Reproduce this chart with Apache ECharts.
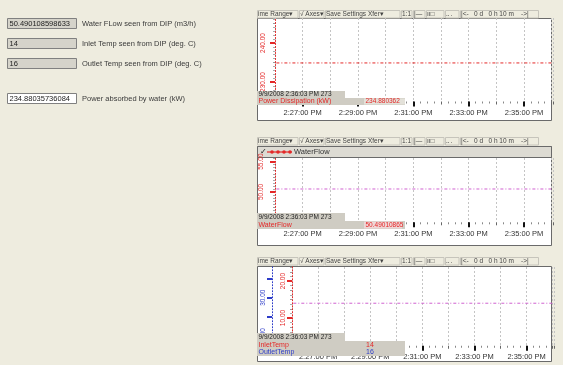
<!DOCTYPE html>
<html><head><meta charset="utf-8">
<script src="https://cdn.jsdelivr.net/npm/echarts@6/dist/echarts.min.js"></script>
<style>html,body{margin:0;padding:0;background:#eeecdf;}#c{width:563px;height:365px;}</style>
</head><body><div id="c"></div>
<script>
// ---------- data ----------
const sampleTimes = [26.05, 36.05];               // minutes after 2:00 PM
const powerValues = [234.880362, 234.880362];
const flowValues = [50.49010865, 50.49010865];
const inletValues = [14, 14];
const outletValues = [16, 16];

const timeTickMinutes = [27, 29, 31, 33, 35];
const timeTickLabels = ['2:27:00 PM', '2:29:00 PM', '2:31:00 PM', '2:33:00 PM', '2:35:00 PM'];

const powerTicks = [230, 240];
const powerTickLabels = ['230.00', '240.00'];
const flowTicks = [50, 55];
const flowTickLabels = ['50.00', '55.00'];
const inletTicks = [10, 20];
const inletTickLabels = ['10.00', '20.00'];
const outletTicks = [20, 30];
const outletTickLabels = ['20.00', '30.00'];

const readoutValues = ['50.490108598633', '14', '16', '234.88035736084'];
const readoutLabels = ['Water FLow seen from DIP (m3/h)', 'Inlet Temp seen from DIP (deg. C)',
  'Outlet Temp seen from DIP (deg. C)', 'Power absorbed by water (kW)'];

const cursorTime = '9/9/2008 2:36:03 PM 273';
const powerName = 'Power Dissipation (kW)';
const powerCursor = '234.880362';
const flowName = 'WaterFlow';
const flowCursor = '50.49010865';
const inletName = 'InletTemp';
const outletName = 'OutletTemp';
const inletCursor = '14';
const outletCursor = '16';

const toolbarItems = ['ime Range\u25BE', '\u221A Axes\u25BE', 'Save Settings Xfer\u25BE', '1:1', '|\u2014', '\u0131\u0131\u25A1', '\u2025 .', '|<-   0 d   0 h 10 m    ->|'];

// ---------- styling ----------
const FONT = '"Liberation Sans", Arial, sans-serif';
const RED = '#e42828';
const BLUE = '#2d3cc8';
const PINK = '#d062d0';

function pickLabel(ticks, labels) {
  return function (v) {
    for (let i = 0; i < ticks.length; i++) if (Math.abs(v - ticks[i]) < 1e-6) return labels[i];
    return '';
  };
}

function xAxes(gi, margin) {
  return [{
    type: 'value', gridIndex: gi, min: 26, max: 36.05, interval: 1, position: 'bottom',
    axisLine: { show: false },
    axisTick: { show: true, length: 3, lineStyle: { color: '#666', width: 1 } },
    minorTick: { show: true, splitNumber: 4, length: 2, lineStyle: { color: '#888' } },
    splitLine: { show: true, lineStyle: { color: '#c4c4c4', type: [2, 2], width: 1 } },
    axisLabel: { formatter: pickLabel(timeTickMinutes, timeTickLabels), fontSize: 7.5, fontFamily: FONT, color: '#333', margin: margin, showMinLabel: true, showMaxLabel: true }
  }, {
    type: 'value', gridIndex: gi, min: 26, max: 36.05, position: 'bottom',
    axisLine: { show: false },
    axisTick: { show: true, length: 5, customValues: timeTickMinutes, lineStyle: { color: '#111', width: 2 } },
    axisLabel: { show: false }, splitLine: { show: false }
  }];
}

function yAxes(gi, min, max, interval, ticks, labels, color, offset, margin, minorSplit, tickMarks) {
  return [{
    type: 'value', gridIndex: gi, min: min, max: max, interval: interval, position: 'left', offset: offset,
    axisLine: { show: true, lineStyle: { color: color, type: [1, 2], width: 1 } },
    axisTick: { show: minorSplit > 0, length: 2, lineStyle: { color: '#999' } },
    minorTick: { show: minorSplit > 0, splitNumber: minorSplit || 2, length: 2, lineStyle: { color: '#aaa' } },
    splitLine: { show: false },
    axisLabel: { rotate: 90, formatter: pickLabel(ticks, labels), color: color, fontSize: 6.5, fontFamily: FONT, margin: margin, showMinLabel: true, showMaxLabel: true }
  }, {
    type: 'value', gridIndex: gi, min: min, max: max, position: 'left', offset: offset,
    axisLine: { show: false },
    axisTick: { show: true, length: 5, customValues: tickMarks || ticks, lineStyle: { color: color, width: 2 } },
    axisLabel: { show: false }, splitLine: { show: false }
  }];
}

// ---------- graphic decorations ----------
const g = [];
function rect(x, y, w, h, fill, stroke, z) {
  g.push({ type: 'rect', shape: { x: x, y: y, width: w, height: h }, style: { fill: fill || 'none', stroke: stroke || null, lineWidth: 1 }, z: z, silent: true });
}
function text(x, y, str, color, size, z) {
  g.push({ type: 'text', x: x, y: y, z: z, silent: true,
    style: { text: str, fill: color, font: size + 'px ' + FONT, textAlign: 'left', textVerticalAlign: 'middle', align: 'left', verticalAlign: 'middle' } });
}

// left panel readouts
const readoutTops = [18.5, 38.5, 58.5, 93.5];
readoutValues.forEach(function (v, i) {
  rect(7.5, readoutTops[i], 69, 10, i < 3 ? '#d5d3ca' : '#ffffff', '#808080', 1);
  text(9.5, readoutTops[i] + 5.5, v, '#222', 7.5, 2);
  text(82, readoutTops[i] + 5.5, readoutLabels[i], '#3a3a3a', 7.5, 2);
});

// chart frames
[[18, 102], [146, 99], [266, 95]].forEach(function (f) {
  rect(257.5, f[0] + 0.5, 294, f[1], '#ffffff', '#6a6a6a', -10);
});

// toolbars
const toolbarX = [258, 300, 326, 402, 414, 427, 446, 461];
[14, 141, 261].forEach(function (ty) {
  toolbarItems.forEach(function (t, i) {
    const x0 = toolbarX[i];
    const x1 = i < toolbarX.length - 1 ? toolbarX[i + 1] - 1.5 : 539;
    rect(x0 - 0.5, ty - 3.5, x1 - x0, 7.5, null, '#c6c4bb', 1);
    text(x0, ty, t, '#444', 6.5, 2);
  });
});

// chart 2 plot legend bar
rect(257.5, 146.5, 294, 11, '#dddbd3', '#6a6a6a', -4);
text(259.5, 152, '\u2713', '#111', 8, 2);
g.push({ type: 'line', shape: { x1: 267, y1: 152, x2: 292, y2: 152 }, style: { stroke: RED, lineWidth: 1.2 }, z: 2, silent: true });
[272, 278, 284, 290].forEach(function (cx) {
  g.push({ type: 'circle', shape: { cx: cx, cy: 152, r: 1.8 }, style: { fill: RED }, z: 2, silent: true });
});
text(294, 152, flowName, '#333', 7.5, 2);

// cursor legends
const LG = '#cfccc3';
rect(257, 91, 88, 7, LG, null, 50);
text(258.5, 94.5, cursorTime, '#222', 6.5, 51);
rect(257, 98, 148, 7, LG, null, 50);
text(258.5, 101.5, powerName, RED, 7, 51);
rect(364, 98.5, 41, 6, '#e3e1d9', null, 51);
text(365.5, 101.5, powerCursor, RED, 6.5, 52);

rect(257, 213, 88, 8, LG, null, 50);
text(258.5, 217, cursorTime, '#222', 6.5, 51);
rect(257, 221, 148, 8, LG, null, 50);
text(258.5, 225, flowName, RED, 7, 51);
rect(364, 221.5, 38, 7, '#efd6d6', null, 51);
text(365.5, 225, flowCursor, RED, 6.5, 52);

rect(257, 333, 88, 8, LG, null, 50);
text(258.5, 337, cursorTime, '#222', 6.5, 51);
rect(257, 341, 148, 15, LG, null, 50);
text(258.5, 345.5, inletName, RED, 7, 51);
text(258.5, 352, outletName, BLUE, 7, 51);
text(366, 345.5, inletCursor, RED, 7, 51);
text(366, 352, outletCursor, BLUE, 7, 51);

// ---------- chart ----------
const chart = echarts.init(document.getElementById('c'), null, { renderer: 'canvas' });
const zip = (a, b) => a.map((v, i) => [v, b[i]]);

chart.setOption({
  backgroundColor: '#eeecdf',
  animation: false,
  grid: [
    { left: 275, right: 10, top: 18, bottom: 263.5, containLabel: false, outerBoundsMode: 'none' },
    { left: 275, right: 10, top: 158, bottom: 142.7, containLabel: false, outerBoundsMode: 'none' },
    { left: 292, right: 9, top: 267, bottom: 19.25, containLabel: false, outerBoundsMode: 'none' }
  ],
  xAxis: [].concat(xAxes(0, 7), xAxes(1, 7.5), xAxes(2, 7)),
  yAxis: [].concat(
    yAxes(0, 225, 246.4, 5, powerTicks, powerTickLabels, RED, 0, 8.5, 5),
    yAxes(1, 45, 55.6, 2.5, flowTicks, flowTickLabels, RED, 0, 10, 5),
    yAxes(2, 2.5, 23.8, 2.5, inletTicks, inletTickLabels, RED, 0, 5.5, 2),
    yAxes(2, 17.5, 38, 2.5, outletTicks, outletTickLabels, BLUE, 20, 5.5, 0, [25, 30, 35])
  ),
  graphic: { elements: g },
  series: [
    { type: 'line', name: powerName, xAxisIndex: 0, yAxisIndex: 0, data: zip(sampleTimes, powerValues), showSymbol: false, lineStyle: { color: RED, width: 1, type: [3, 2, 1, 2] } },
    { type: 'line', name: flowName, xAxisIndex: 2, yAxisIndex: 2, data: zip(sampleTimes, flowValues), showSymbol: false, lineStyle: { color: PINK, width: 1, type: [3, 2, 1, 2] } },
    { type: 'line', name: inletName, xAxisIndex: 4, yAxisIndex: 4, data: zip(sampleTimes, inletValues), showSymbol: false, lineStyle: { color: PINK, width: 1, type: [3, 2, 1, 2] } },
    { type: 'line', name: outletName, xAxisIndex: 4, yAxisIndex: 6, data: zip(sampleTimes, outletValues), showSymbol: false, clip: true, lineStyle: { color: BLUE, width: 1, type: [3, 2, 1, 2] } }
  ]
});
</script></body></html>
